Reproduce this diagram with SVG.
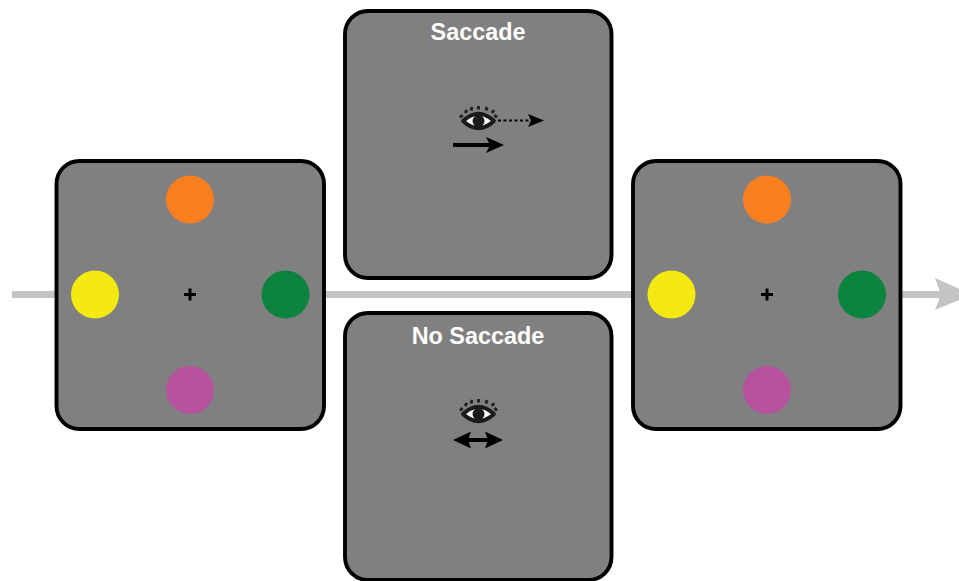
<svg xmlns="http://www.w3.org/2000/svg" width="959" height="581" viewBox="0 0 959 581">
<style>
.panel{fill:#808080;stroke:#000;stroke-width:3.900}
.label{font-family:"Liberation Sans",Arial,sans-serif;font-weight:700;font-size:23.400px;fill:#fff;text-anchor:middle}
.o{fill:#f97e20}.y{fill:#f4e911}.g{fill:#0d843e}.p{fill:#b7529f}
.cross{stroke:#000;stroke-width:3;fill:none}
.lash{stroke:#222;stroke-width:3;fill:none}
</style>
<defs>
<g id="eye">
<path class="lash" d="M-18.500-3.500L-16-6M-13.500-8L-11.500-11M-7.500-10.500L-6.500-14M0-11.500V-15M7.500-10.500L8.500-14M13.500-8L15.500-11M18.500-3.500L16-6"/>
<path d="M-15.500 0Q0-14.500 15.500 0Q0 14.500-15.500 0Z" fill="#fff" stroke="#1a1a1a" stroke-width="3.800" stroke-linejoin="round"/>
<circle r="6" fill="#1a1a1a"/>
</g>
<g id="plus"><path class="cross" d="M-6 0H6M0-6V6"/></g>
</defs>
<g id="connectors">
<path d="M12 294.500H942" fill="none" stroke="#c4c4c4" stroke-width="7"/>
<path d="M935 278L972 294.500L935 310L941 294.500Z" fill="#c4c4c4"/>
</g>
<g id="panel-left">
<rect class="panel" x="56.500" y="161" width="267.500" height="268" rx="23"/>
<circle class="o" cx="190" cy="199.500" r="24"/>
<circle class="y" cx="95" cy="294.500" r="24"/>
<circle class="g" cx="285.500" cy="294.500" r="24"/>
<circle class="p" cx="190" cy="390" r="24"/>
<use href="#plus" x="190" y="294.500"/>
</g>
<g id="panel-saccade">
<rect class="panel" x="345" y="11" width="266.500" height="267" rx="23"/>
<text class="label" x="478" y="40">Saccade</text>
<use href="#eye" x="478.500" y="121"/>
<path d="M498 120.500H531" fill="none" stroke="#000" stroke-width="2" stroke-dasharray="3 2.500"/>
<path d="M528 114L544 120.500L528 127L531 120.500Z" fill="#000"/>
<path d="M453 145H490" fill="none" stroke="#000" stroke-width="4"/>
<path d="M486 137L504 145L486 153L490 145Z" fill="#000"/>
</g>
<g id="panel-no-saccade">
<rect class="panel" x="345" y="313" width="266.500" height="267" rx="23"/>
<text class="label" x="478" y="344">No Saccade</text>
<use href="#eye" x="478.500" y="414"/>
<path d="M465 440H491" fill="none" stroke="#000" stroke-width="4"/>
<path d="M453 440L471 431.500L468 440L471 448.500Z" fill="#000"/>
<path d="M503 440L485 431.500L488 440L485 448.500Z" fill="#000"/>
</g>
<g id="panel-right">
<rect class="panel" x="633" y="161" width="267.500" height="268" rx="23"/>
<circle class="o" cx="767" cy="199.500" r="24"/>
<circle class="y" cx="671.500" cy="294.500" r="24"/>
<circle class="g" cx="862" cy="294.500" r="24"/>
<circle class="p" cx="767" cy="390" r="24"/>
<use href="#plus" x="767" y="294.500"/>
</g>
</svg>
